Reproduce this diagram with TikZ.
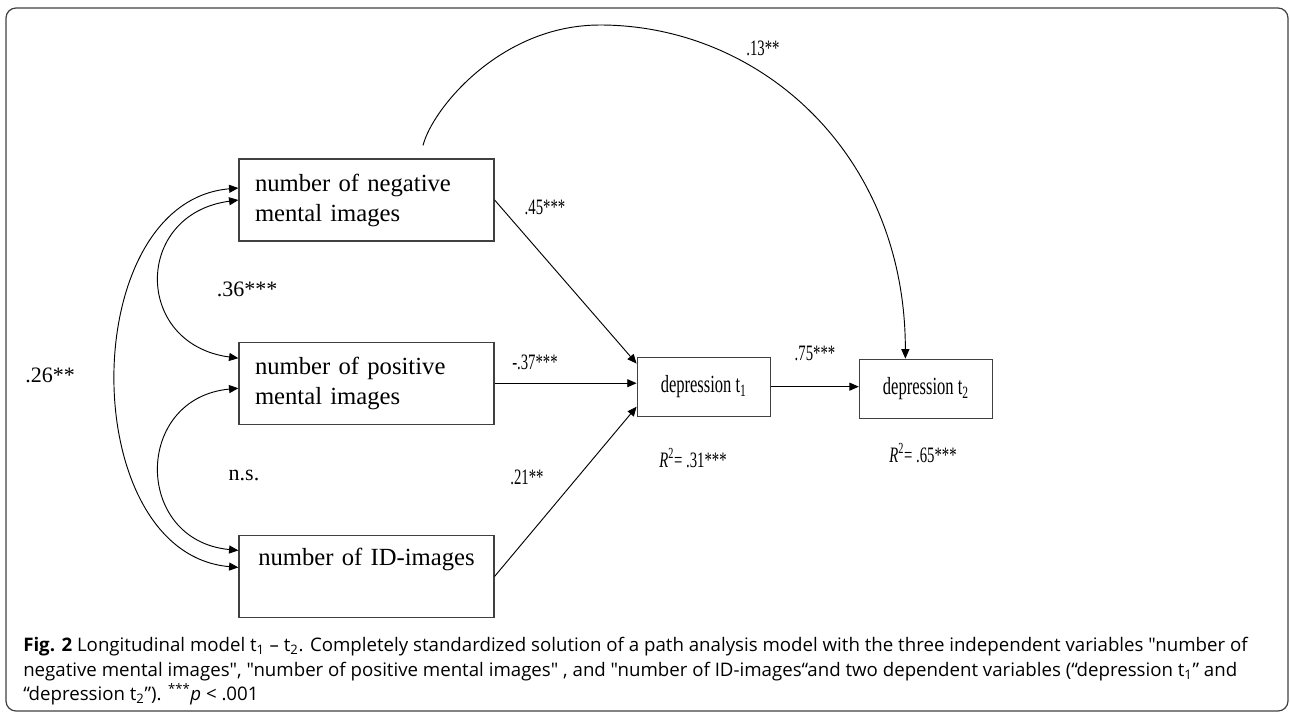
\documentclass[tikz,border=0pt]{standalone}
\usepackage{fontspec}
\setmainfont{Liberation Serif}
\newfontfamily\narrowfont{Liberation Serif}[FakeStretch=0.67]
\newfontfamily\capfont{Open Sans}[Ligatures=TeXOff]
\usetikzlibrary{positioning, arrows.meta}

\begin{document}
\begin{tikzpicture}[
    x=0.75pt, y=-0.75pt,
    node distance = 75pt and 106.5pt,
    box/.style = {rectangle, draw=black!75, line width=0.9pt, align=left, font=\fontsize{18.5}{22.5}\selectfont, text width=167.25pt, inner xsep=12pt, minimum height=61.5pt},
    dep/.style = {rectangle, draw=black!75, line width=0.9pt, align=center, font=\narrowfont\fontsize{18.5}{22.5}\selectfont, minimum width=99.75pt, minimum height=44.25pt},
    coef/.style = {font=\fontsize{16.5}{20}\selectfont, inner sep=0pt},
    ncoef/.style = {font=\narrowfont\fontsize{16.5}{20}\selectfont, inner sep=0pt},
    arrow/.style = {-{Triangle[length=7pt, width=6pt]}, line width=0.7pt},
    corr/.style = {{Triangle[length=7pt, width=6pt]}-{Triangle[length=7pt, width=6pt]}, line width=0.7pt}
]
    \useasboundingbox (0,0) rectangle (1290,715);
    \draw[black!75, line width=0.9pt, rounded corners=7.5pt] (6,8) rectangle (1288,711);

    \node[box] (NEG) at (366.5,200) {number of negative\\mental images};
    \node[box, below=of NEG] (POS) {number of positive\\mental images};
    \node[box, below=82.5pt of POS, align=center] (ID) {number of ID-images\\\strut};

    \node[dep, right=of POS, yshift=-2.6pt] (D1) {depression t\textsubscript{1}};
    \node[dep, right=66pt of D1, yshift=-1.5pt] (D2) {depression t\textsubscript{2}};

    \draw[arrow] (NEG.east) -- ([yshift=-5.25pt]D1.north west);
    \draw[arrow] (POS.east) -- (POS.east -| D1.west);
    \draw[arrow] (ID.east) -- ([yshift=7.5pt]D1.south west);
    \draw[arrow] (D1.east) -- (D1.east -| D2.west);

    \coordinate (arcstart) at ([xshift=42.4pt, yshift=9.75pt]NEG.north);
    \coordinate (arcpeak) at (600,25);
    \draw[arrow] (arcstart) .. controls +(9,-36) and +(-100,0) .. (arcpeak)
        .. controls +(160,0) and +(0,-205) .. ([xshift=-15.4pt]D2.north);

    \draw[corr] (NEG.west) .. controls +(-105,14) and +(-105,-14) .. ([yshift=18.75pt]POS.west);
    \draw[corr] ([yshift=-3.75pt]POS.west) .. controls +(-105,10) and +(-105,-10) .. ([yshift=19.5pt]ID.west);
    \draw[corr] ([yshift=9pt]NEG.west) .. controls +(-163,14) and +(-163,-14) .. ([yshift=6.75pt]ID.west);

    \node[coef] (c36) at (247,289) {.36***};
    \node[coef] (c26) at (50,375) {.26**};
    \node[coef] (cns) at (244,475) {n.s.};
    \node[ncoef] (c45) at (545,207) {.45***};
    \node[ncoef] (c13) at (763,48) {.13**};
    \node[ncoef] (c37) at (535,362) {-.37***};
    \node[ncoef] (c21) at (527,477) {.21**};
    \node[ncoef] (c75) at (815,353) {.75***};
    \node[ncoef] (r1) at (693,458) {\textit{R}\textsuperscript{2}= .31***};
    \node[ncoef] (r2) at (923,453) {\textit{R}\textsuperscript{2}= .65***};

    \node[anchor=north west, align=left, inner sep=0pt, font=\capfont\fontsize{14}{18.5}\selectfont] (cap) at (23,637) {\textbf{Fig. 2} Longitudinal model t\textsubscript{1} – t\textsubscript{2}. Completely standardized solution of a path analysis model with the three independent variables "number of\\negative mental images", "number of positive mental images" , and "number of ID-images“and two dependent variables (“depression t\textsubscript{1}” and\\“depression t\textsubscript{2}”). \textsuperscript{***}\textit{p} < .001};
\end{tikzpicture}
\end{document}
